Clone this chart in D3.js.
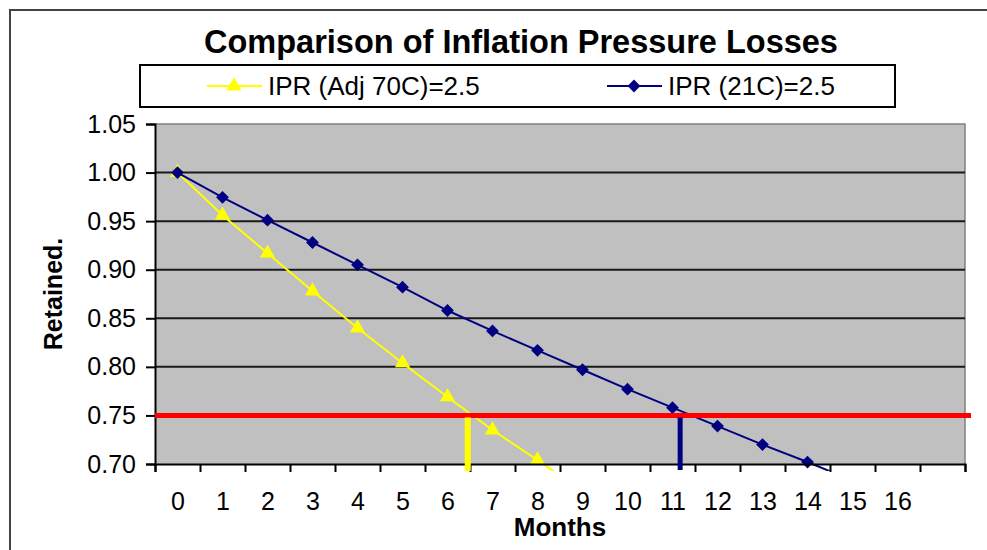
<!DOCTYPE html>
<html>
<head>
<meta charset="utf-8">
<script src="https://cdn.jsdelivr.net/npm/d3@7"></script>
<style>
  body { margin: 0; background: #fff; }
  svg { display: block; font-family: "Liberation Sans", Arial, sans-serif; }
</style>
</head>
<body>
<div id="chart--wrapper"></div>
<script>
// data
const months = [0, 1, 2, 3, 4, 5, 6, 7, 8, 9, 10, 11, 12, 13, 14, 15, 16, 17];
const monthLabels = ['0', '1', '2', '3', '4', '5', '6', '7', '8', '9', '10', '11', '12', '13', '14', '15', '16', ''];
const iprAdj70 = [1.000, 0.956, 0.917, 0.878, 0.840, 0.804, 0.769, 0.735, 0.704, 0.672];
const ipr21 = [1.000, 0.9745, 0.951, 0.928, 0.905, 0.882, 0.858, 0.837, 0.817, 0.797, 0.777, 0.758, 0.739, 0.720, 0.702, 0.683];
const yTicks = [0.70, 0.75, 0.80, 0.85, 0.90, 0.95, 1.00, 1.05];
const threshold = 0.75;
// month where each curve reaches the threshold (vertical markers)
const crossAdj70 = 6.45;
const cross21 = 11.17;

const seriesNames = ['IPR (Adj 70C)=2.5', 'IPR (21C)=2.5'];
const yellow = '#ffff00';
const navy = '#000080';

const W = 987;
const H = 550;
const plot = { left: 155, right: 965, top: 124, bottom: 464 };

const svg = d3.select('#chart--wrapper').append('svg')
  .attr('width', W)
  .attr('height', H);

// chart frame (runs off the right / bottom of the page)
svg.append('rect')
  .attr('x', 10).attr('y', 10)
  .attr('width', 1000).attr('height', 600)
  .attr('fill', '#fff')
  .attr('stroke', '#444')
  .attr('stroke-width', 2);

// scales
const xScale = d3.scaleLinear()
  .domain([months[0] - 0.5, months[months.length - 1] + 0.5])
  .range([plot.left, plot.right]);

const yScale = d3.scaleLinear()
  .domain([yTicks[0], yTicks[yTicks.length - 1]])
  .range([plot.bottom, plot.top]);

// plot background
svg.append('rect')
  .attr('x', plot.left).attr('y', plot.top)
  .attr('width', plot.right - plot.left)
  .attr('height', plot.bottom - plot.top)
  .attr('fill', '#c0c0c0');

svg.append('path')
  .attr('d', 'M' + plot.left + ',' + plot.top + 'H' + plot.right + 'V' + plot.bottom)
  .attr('fill', 'none')
  .attr('stroke', '#808080')
  .attr('stroke-width', 1.5);

// gridlines
svg.append('g')
  .selectAll('line')
  .data(yTicks.filter(function (d) { return d > yTicks[0] && d < yTicks[yTicks.length - 1]; }))
  .join('line')
  .attr('x1', plot.left).attr('x2', plot.right)
  .attr('y1', function (d) { return yScale(d); })
  .attr('y2', function (d) { return yScale(d); })
  .attr('stroke', '#1a1a1a')
  .attr('stroke-width', 2);

// clip so the lines stop just under the axis
svg.append('defs').append('clipPath')
  .attr('id', 'plot-clip')
  .append('rect')
  .attr('x', plot.left).attr('y', plot.top - 10)
  .attr('width', plot.right - plot.left)
  .attr('height', plot.bottom - plot.top + 17);

const line = d3.line()
  .x(function (d, i) { return xScale(months[i]); })
  .y(function (d) { return yScale(d); });

const series = svg.append('g').attr('clip-path', 'url(#plot-clip)');

// yellow series first, navy on top
series.append('path')
  .datum(iprAdj70)
  .attr('d', line)
  .attr('fill', 'none')
  .attr('stroke', yellow)
  .attr('stroke-width', 2);

const triangle = d3.symbol().type(d3.symbolTriangle).size(100);
const square = d3.symbol().type(d3.symbolSquare).size(82);

series.append('g')
  .selectAll('path')
  .data(iprAdj70)
  .join('path')
  .attr('d', triangle)
  .attr('transform', function (d, i) {
    return 'translate(' + xScale(months[i]) + ',' + yScale(d) + ')';
  })
  .attr('fill', yellow);

series.append('path')
  .datum(ipr21)
  .attr('d', line)
  .attr('fill', 'none')
  .attr('stroke', navy)
  .attr('stroke-width', 2);

series.append('g')
  .selectAll('path')
  .data(ipr21.filter(function (d) { return d >= yTicks[0]; }))
  .join('path')
  .attr('d', square)
  .attr('transform', function (d, i) {
    return 'translate(' + xScale(months[i]) + ',' + yScale(d) + ') rotate(45)';
  })
  .attr('fill', navy);

// y axis
const axisY = d3.axisLeft(yScale)
  .tickValues(yTicks)
  .tickSize(9)
  .tickPadding(10)
  .tickFormat(d3.format('.2f'));

const gy = svg.append('g')
  .attr('transform', 'translate(' + plot.left + ',0)')
  .call(axisY);

// x axis: ticks between categories, labels at centres
const axisX = d3.axisBottom(xScale)
  .tickValues(d3.range(months.length + 1).map(function (k) { return k - 0.5; }))
  .tickSize(8)
  .tickFormat('');

const gx = svg.append('g')
  .attr('transform', 'translate(0,' + plot.bottom + ')')
  .call(axisX);

const axisXLabels = d3.axisBottom(xScale)
  .tickValues(months)
  .tickSize(0)
  .tickPadding(28)
  .tickFormat(function (d, i) { return monthLabels[i]; });

const gxl = svg.append('g')
  .attr('transform', 'translate(0,' + plot.bottom + ')')
  .call(axisXLabels);
gxl.select('.domain').remove();

[gy, gx].forEach(function (g) {
  g.select('.domain').attr('stroke', '#000').attr('stroke-width', 2);
  g.selectAll('.tick line').attr('stroke', '#000').attr('stroke-width', 2);
});
[gy, gxl].forEach(function (g) {
  g.selectAll('text')
    .attr('fill', '#000')
    .style('font-size', '25px')
    .style('font-family', '"Liberation Sans", Arial, sans-serif');
});

// threshold line + markers where each curve crosses it
svg.append('line')
  .attr('x1', plot.left).attr('x2', plot.right + 6)
  .attr('y1', yScale(threshold)).attr('y2', yScale(threshold))
  .attr('stroke', '#ff0000')
  .attr('stroke-width', 5);

svg.append('line')
  .attr('x1', xScale(crossAdj70)).attr('x2', xScale(crossAdj70))
  .attr('y1', yScale(threshold) + 2).attr('y2', plot.bottom + 7)
  .attr('stroke', yellow)
  .attr('stroke-width', 6);

svg.append('line')
  .attr('x1', xScale(cross21)).attr('x2', xScale(cross21))
  .attr('y1', yScale(threshold) + 2).attr('y2', plot.bottom + 6)
  .attr('stroke', navy)
  .attr('stroke-width', 5);

// titles
svg.append('text')
  .attr('x', 521).attr('y', 53)
  .attr('text-anchor', 'middle')
  .style('font-size', '32.5px')
  .style('font-weight', 'bold')
  .text('Comparison of Inflation Pressure Losses');

svg.append('text')
  .attr('x', (plot.left + plot.right) / 2).attr('y', 536)
  .attr('text-anchor', 'middle')
  .style('font-size', '26px')
  .style('font-weight', 'bold')
  .text('Months');

svg.append('text')
  .attr('transform', 'translate(62,' + ((plot.top + plot.bottom) / 2) + ') rotate(-90)')
  .attr('text-anchor', 'middle')
  .style('font-size', '25px')
  .style('font-weight', 'bold')
  .text('Retained.');

// legend
const legend = svg.append('g');
legend.append('rect')
  .attr('x', 140).attr('y', 65)
  .attr('width', 755).attr('height', 42)
  .attr('fill', '#fff')
  .attr('stroke', '#000')
  .attr('stroke-width', 2);

const legendItems = [
  { name: seriesNames[0], color: yellow, sym: triangle, x: 207, rot: '' },
  { name: seriesNames[1], color: navy, sym: square, x: 607, rot: ' rotate(45)' }
];

legendItems.forEach(function (d) {
  legend.append('line')
    .attr('x1', d.x).attr('x2', d.x + 55)
    .attr('y1', 86).attr('y2', 86)
    .attr('stroke', d.color)
    .attr('stroke-width', 2);
  legend.append('path')
    .attr('d', d.sym)
    .attr('transform', 'translate(' + (d.x + 27) + ',86)' + d.rot)
    .attr('fill', d.color);
  legend.append('text')
    .attr('x', d.x + 61).attr('y', 95)
    .style('font-size', '26px')
    .text(d.name);
});
</script>
</body>
</html>
